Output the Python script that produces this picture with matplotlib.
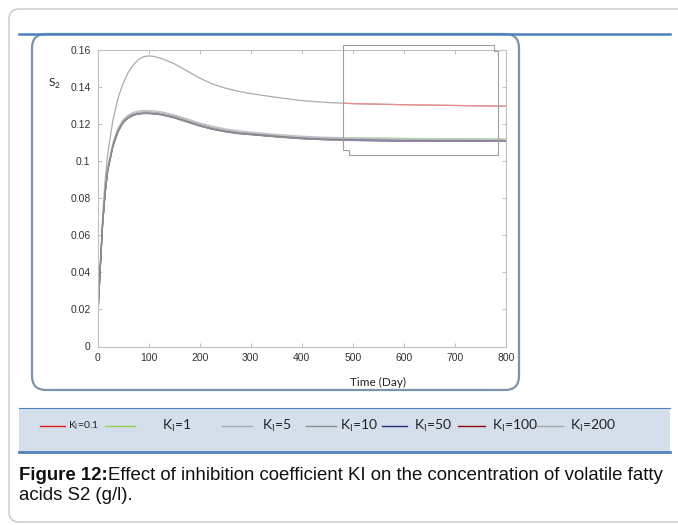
import matplotlib
matplotlib.use("Agg")
import matplotlib.pyplot as plt
from matplotlib.patches import FancyBboxPatch, Polygon, Rectangle
from matplotlib.lines import Line2D
from matplotlib.transforms import IdentityTransform

# ---------------- data ----------------
t = [0, 2, 5, 10, 15, 20, 30, 40, 50, 60, 70, 80, 90, 100, 110, 125, 150, 175,
     200, 225, 250, 275, 300, 350, 400, 450, 500, 600, 700, 800]

ki_01 = [0.010, 0.024, 0.042, 0.070, 0.090, 0.104, 0.122, 0.134, 0.142, 0.148,
         0.152, 0.1550, 0.1565, 0.1570, 0.1567, 0.1556, 0.1528, 0.1489, 0.1450,
         0.1418, 0.1396, 0.1379, 0.1366, 0.1346, 0.1328, 0.1318, 0.1312, 0.1306,
         0.1302, 0.1298]
ki_1 = [0.010, 0.024, 0.041, 0.068, 0.085, 0.097, 0.110, 0.118, 0.1225, 0.1250,
        0.1265, 0.1272, 0.1275, 0.1275, 0.1273, 0.1268, 0.1252, 0.1230, 0.1208,
        0.1190, 0.1176, 0.1166, 0.1158, 0.1146, 0.1136, 0.1130, 0.1127, 0.1124,
        0.1122, 0.1120]
ki_5 = [0.010, 0.024, 0.041, 0.067, 0.084, 0.096, 0.109, 0.117, 0.1218, 0.1243,
        0.1258, 0.1265, 0.1268, 0.1268, 0.1266, 0.1261, 0.1245, 0.1223, 0.1201,
        0.1183, 0.1169, 0.1159, 0.1152, 0.1140, 0.1130, 0.1124, 0.1121, 0.1118,
        0.1116, 0.1114]
ki_10 = [0.010, 0.024, 0.040, 0.066, 0.083, 0.095, 0.108, 0.116, 0.1211, 0.1236,
         0.1251, 0.1258, 0.1261, 0.1261, 0.1259, 0.1254, 0.1238, 0.1216, 0.1194,
         0.1176, 0.1163, 0.1153, 0.1147, 0.1135, 0.1125, 0.1119, 0.1116, 0.1113,
         0.1111, 0.1110]
ki_50 = [0.010, 0.024, 0.040, 0.066, 0.083, 0.095, 0.108, 0.116, 0.1210, 0.1235,
         0.1250, 0.1257, 0.1260, 0.1260, 0.1258, 0.1253, 0.1237, 0.1215, 0.1193,
         0.1175, 0.1162, 0.1152, 0.1146, 0.1134, 0.1124, 0.1118, 0.1115, 0.1112,
         0.1110, 0.1109]
ki_100 = [0.010, 0.024, 0.040, 0.066, 0.083, 0.095, 0.108, 0.116, 0.1209, 0.1234,
          0.1249, 0.1256, 0.1259, 0.1259, 0.1257, 0.1252, 0.1236, 0.1214, 0.1192,
          0.1174, 0.1161, 0.1151, 0.1145, 0.1133, 0.1123, 0.1117, 0.1114, 0.1111,
          0.1109, 0.1108]
ki_200 = [0.010, 0.024, 0.040, 0.066, 0.083, 0.095, 0.108, 0.116, 0.1209, 0.1234,
          0.1249, 0.1256, 0.1258, 0.1258, 0.1256, 0.1251, 0.1235, 0.1213, 0.1191,
          0.1173, 0.1160, 0.1150, 0.1144, 0.1132, 0.1122, 0.1116, 0.1113, 0.1110,
          0.1109, 0.1108]

series = [ki_01, ki_1, ki_5, ki_10, ki_50, ki_100, ki_200]
legend_labels = ["0.1", "1", "5", "10", "50", "100", "200"]
legend_colors = ["#e31a1c", "#92d050", "#a3a9b8", "#8c8c8c", "#1f2a78", "#8b0a0a", "#a6a6a6"]
main_colors = ["#ababab", "#c2c2c2", "#aeaebb", "#8a8a98", "#7c7c92", "#86808c", "#8e8e8e"]
zoom_colors = ["#ef8a8a", "#b5dca0", "#b4b4c4", "#9a92b0", "#84769f", "#8a7498", "#9088a6"]

xticks = [0, 100, 200, 300, 400, 500, 600, 700, 800]
yticks = [0, 0.02, 0.04, 0.06, 0.08, 0.1, 0.12, 0.14, 0.16]
ytick_labels = ["0", "0.02", "0.04", "0.06", "0.08", "0.1", "0.12", "0.14", "0.16"]

# ---------------- figure ----------------
W, H = 678, 525
fig = plt.figure(figsize=(W / 100, H / 100), dpi=100)
fig.patch.set_facecolor("white")
ID = IdentityTransform()


def fx(px):
    return px / W


def fy(py):
    return 1 - py / H


def pp(px, py):
    return (px, H - py)


# outer light gray frame
fig.add_artist(FancyBboxPatch(pp(9, 522), 720, 513,
                              boxstyle="round,pad=0,rounding_size=10",
                              transform=ID, fill=False, ec="#c8c8c8", lw=1.0, zorder=0))
# top blue rule
fig.add_artist(Line2D([19, 670], [H - 33.5, H - 33.5], transform=ID,
                      color="#4f81bd", lw=1.8, zorder=2))
# rounded chart box
fig.add_artist(FancyBboxPatch(pp(32, 390), 487, 356,
                              boxstyle="round,pad=0,rounding_size=14",
                              transform=ID, fill=False, ec="#7f93ad", lw=1.6, zorder=1))

# axes
L, R, T, B = 97.5, 506, 50.3, 346.5
ax = fig.add_axes([fx(L), fy(B), (R - L) / W, (B - T) / H])
ax.set_facecolor("none")

# pasted-inset region, in data coordinates
x_zoom0 = (343 - L) / (R - L) * 800
clip = Rectangle((x_zoom0, 0), 800 - x_zoom0, 0.2, transform=ax.transData)

for s, c in zip(series, main_colors):
    ax.plot(t, s, color=c, lw=0.9)
for s, c in zip(series, zoom_colors):
    ln, = ax.plot(t, s, color=c, lw=0.9)
    ln.set_clip_path(clip)

ax.set_xlim(0, 800)
ax.set_ylim(0, 0.16)
ax.set_xticks(xticks)
ax.set_xticklabels([str(v) for v in xticks])
ax.set_yticks(yticks)
ax.set_yticklabels(ytick_labels)
for sp in ax.spines.values():
    sp.set_color("#c0c0c0")
    sp.set_linewidth(0.8)
ax.tick_params(direction="in", length=3, width=0.6, color="#b5b5b5",
               top=True, right=True, labelsize=7.5, labelcolor="#333333", pad=5)
for lab in ax.get_xticklabels() + ax.get_yticklabels():
    lab.set_family("Liberation Sans")

# pasted-frame artifact outline
poly = [(342.7, 45), (494, 45), (494, 50.5), (498, 50.5), (498, 155),
        (349, 155), (349, 150), (342.7, 150)]
fig.add_artist(Polygon([pp(x, y) for x, y in poly], closed=True, transform=ID,
                       fill=False, ec="#9f9f9f", lw=0.8, zorder=5))

# axis labels
fig.text(fx(48), fy(84), r"S$_\mathregular{2}$", fontsize=8.5, family="Lato",
         color="#222222", va="center", ha="left")
fig.text(fx(378), fy(382), "Time (Day)", fontsize=8.5, family="Lato",
         color="#222222", va="center", ha="center")

# legend band
fig.add_artist(Rectangle(pp(19, 452), 651, 44, transform=ID,
                         fc="#d5dfec", ec="none", zorder=0))
fig.add_artist(Line2D([19, 670], [H - 408, H - 408], transform=ID,
                      color="#4f81bd", lw=0.8, zorder=1))
fig.add_artist(Line2D([19, 670], [H - 452, H - 452], transform=ID,
                      color="#4f81bd", lw=2.0, zorder=1))

leg_line_x = [(40, 65), (105, 135), (222, 252), (306, 336), (382, 407), (458, 485), (536, 563)]
leg_text_x = [68, 162, 262, 340, 414, 492, 570]
leg_y = 426
for i, (lab, col) in enumerate(zip(legend_labels, legend_colors)):
    x0, x1 = leg_line_x[i]
    fig.add_artist(Line2D([x0, x1], [H - leg_y, H - leg_y], transform=ID,
                          color=col, lw=1.0, zorder=3))
    fs = 7.5 if i == 0 else 10
    fig.text(fx(leg_text_x[i]), fy(leg_y), r"K$_\mathregular{I}$=" + lab,
             fontsize=fs, family="Lato", color="#222222", va="center", ha="left")

# caption
fig.canvas.draw()
r = fig.canvas.get_renderer()
cap_fs = 13.4
tb = fig.text(fx(19), fy(475), "Figure 12:", fontsize=cap_fs, family="Liberation Sans",
              weight="bold", color="#111111", va="center", ha="left")
bb = tb.get_window_extent(renderer=r)
fig.text(bb.x1 / W, fy(475),
         "Effect of inhibition coefficient KI on the concentration of volatile fatty",
         fontsize=cap_fs, family="Liberation Sans", color="#111111", va="center", ha="left")
fig.text(fx(19), fy(496), "acids S2 (g/l).", fontsize=cap_fs, family="Liberation Sans",
         color="#111111", va="center", ha="left")

fig.savefig("out.png", dpi=100, facecolor="white")
